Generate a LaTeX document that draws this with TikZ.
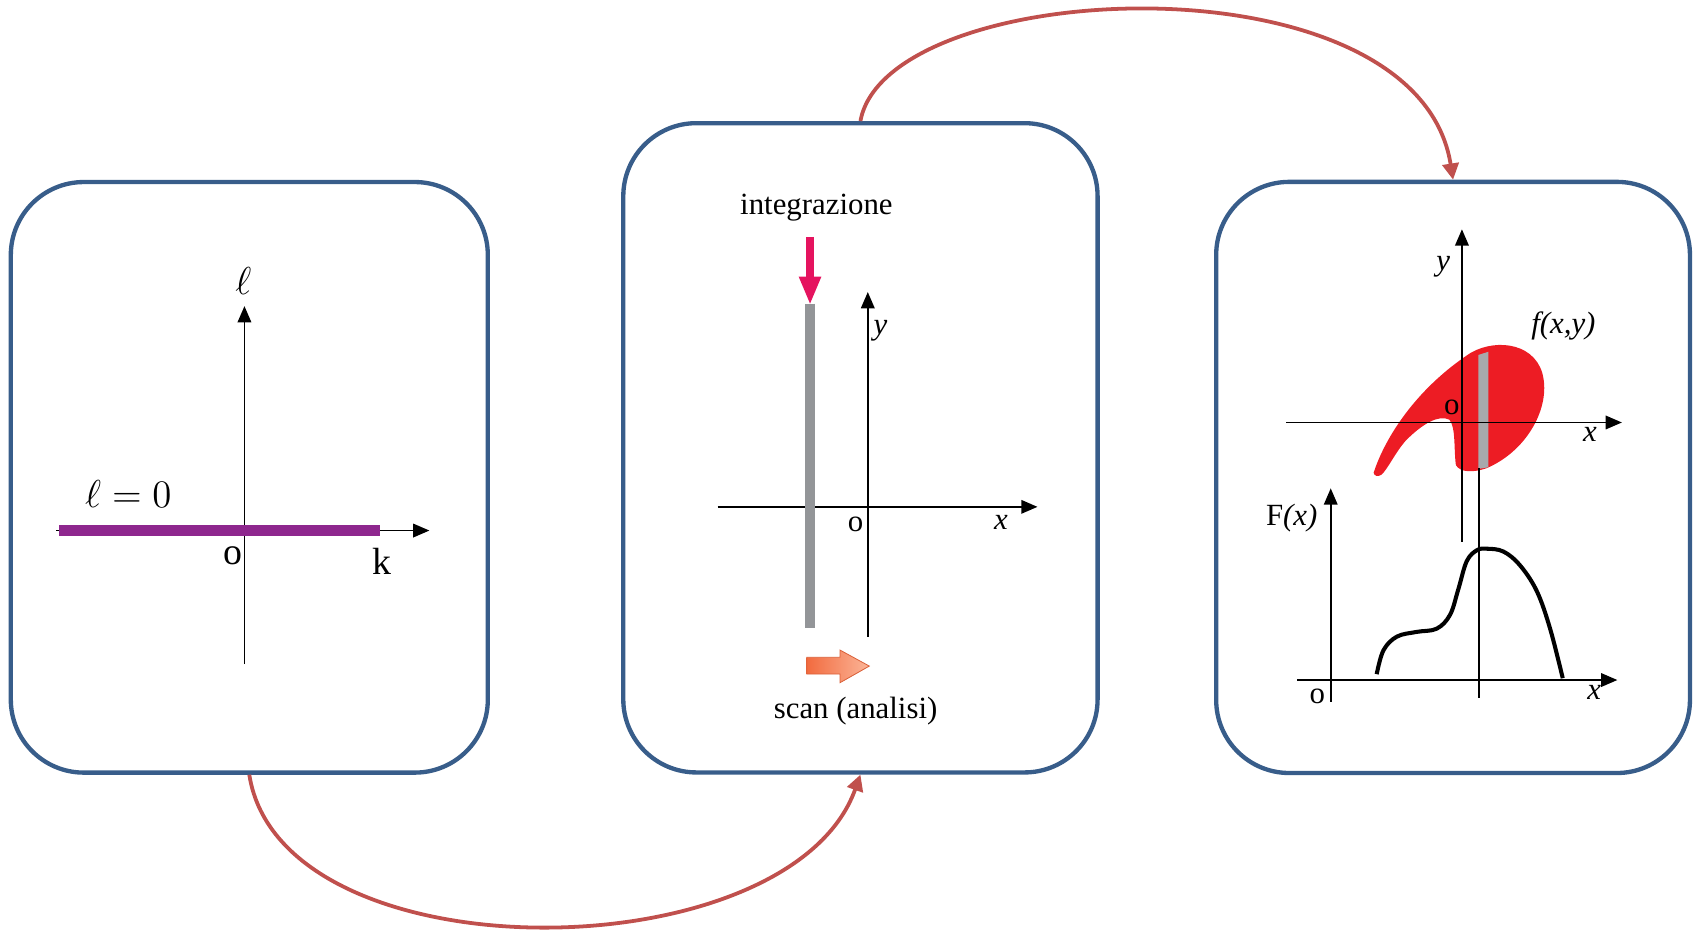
\documentclass[tikz,border=0pt]{standalone}
\usepackage{fontspec}
\setmainfont{Liberation Serif}
\usetikzlibrary{arrows.meta}
\definecolor{panelblue}{HTML}{385D8A}
\definecolor{linkred}{HTML}{C0504D}
\definecolor{barpurple}{HTML}{8E278E}
\definecolor{blobred}{HTML}{ED1C24}
\definecolor{intmagenta}{HTML}{E5135F}
\definecolor{bargray}{HTML}{939598}
\definecolor{stripgray}{HTML}{A7A9AC}
\definecolor{scanorange}{HTML}{F26B3F}
\definecolor{scanpeach}{HTML}{FBB598}

\begin{document}
\begin{tikzpicture}[x=0.4pt, y=-0.4pt,
    panel/.style={draw=panelblue, line width=1.6pt, rounded corners=27pt, inner sep=0pt},
    link/.style={draw=linkred, line width=1.4pt, -{Triangle[length=6pt,width=6pt]}},
    axis/.style={line width=0.65pt, -{Triangle[length=6pt,width=5pt]}},
    lbl/.style={font=\fontsize{11.4}{13}\selectfont, inner sep=0pt},
    biglbl/.style={font=\fontsize{14}{16}\selectfont, inner sep=0pt},
]
\useasboundingbox (0,0) rectangle (1568,860);

% === Panels ===
\node[panel, minimum width=176.4pt, minimum height=218.4pt] (box1) at (230.5, 441.3) {};
\node[panel, minimum width=175.4pt, minimum height=240.1pt] (box2) at (795.5, 414) {};
\node[panel, minimum width=175.2pt, minimum height=218.6pt] (box3) at (1343.4, 441.4) {};

% Links between panels
\draw[link] (box1.south) .. controls (260,905) and (730,900) .. (box2.south);
\draw[link] (box2.north) .. controls (820,-22) and (1310,-45) .. (box3.north);

% === Panel 1: the line l = 0 ===
\draw[axis] (226,614) -- (226,283);
\draw[axis] (52,490.5) -- (397,490.5);
\draw[barpurple, line width=4.1pt] (55,490.5) -- (351,490.5);
\node[biglbl] (ell) at (225, 259.5) {$\ell$};
\node[biglbl] (ellzero) at (118.7, 457) {$\ell = 0$};
\node[biglbl] (orig1) at (215.7, 513.5) {o};
\node[biglbl] (klbl) at (352.9, 519) {k};

% === Panel 2: integration and scan ===
\node[lbl] (integ) at (754.8, 192) {integrazione};
\draw[axis] (802.3,588.8) -- (802.3,270);
\draw[axis] (663.4,468.6) -- (959.2,468.6);
\draw[bargray, line width=3.4pt] (748.9,280.6) -- (748.9,580.8);
\draw[intmagenta, line width=3.1pt, -{Triangle[length=10.5pt,width=7.5pt]}] (748.9,219) -- (748.9,282);
\node[lbl] (ylbl2) at (814, 306) {\textit{y}};
\node[lbl] (orig2) at (791, 484.6) {o};
\node[lbl] (xlbl2) at (925.3, 482.6) {\textit{x}};
\shade[left color=scanorange, right color=scanpeach, draw=scanorange!90!black, line width=0.3pt]
  (745.8,607.7) -- (776.6,607.7) -- (776.6,601) -- (803.7,615.8) -- (776.6,631.2)
  -- (776.6,623.2) -- (745.8,623.2) -- cycle;
\node[lbl] (scan) at (791, 657) {scan (analisi)};

% === Panel 3: domain and F(x) ===
\fill[blobred] (1270,437) .. controls (1280,406) and (1308,360) .. (1360,326)
  .. controls (1385,312) and (1422,318) .. (1427,350)
  .. controls (1432,380) and (1410,418) .. (1374,433)
  .. controls (1362,437) and (1350,437) .. (1346,430)
  .. controls (1344,415) and (1346,395) .. (1340,388)
  .. controls (1330,383) and (1315,392) .. (1300,407)
  .. controls (1290,418) and (1283,434) .. (1277,439)
  .. controls (1274,441) and (1270,440) .. (1270,437) -- cycle;
\fill[stripgray] (1366.8,328.2) -- (1376,325.2) -- (1376,432) -- (1366.8,433.5) -- cycle;
\draw[axis] (1351.6,500.8) -- (1351.6,212);
\draw[axis] (1189,390.6) -- (1499.5,390.6);
\node[lbl] (ylbl3) at (1334.4, 246.8) {\textit{y}};
\node[lbl] (fxy) at (1445.4, 301.6) {\textit{f(x,y)}};
\node[lbl] (orig3) at (1342.2, 376.5) {o};
\node[lbl] (xlbl3) at (1470, 402) {\textit{x}};

\draw[line width=0.65pt] (1367.6,433) -- (1367.6,645);
\draw[axis] (1230.3,648.9) -- (1230.3,451.5);
\draw[axis] (1199.5,628.7) -- (1495.3,628.7);
\draw[line width=1.5pt] plot[smooth, tension=0.6] coordinates {
  (1272.8,623.3) (1279,601.3) (1291.4,588.6) (1309.8,584.2) (1328.3,581.2)
  (1340.6,568.4) (1348.3,544.6) (1356,518.9) (1365.3,508.8) (1374.5,507.3)
  (1389.9,509.9) (1405.3,522.7) (1420.8,546.5) (1433.1,581.2) (1444.8,627)};
\node[lbl] (Flbl) at (1194.2, 479) {F\textit{(x)}};
\node[lbl] (orig4) at (1218, 643.5) {o};
\node[lbl] (xlbl4) at (1473.8, 639.8) {\textit{x}};

\end{tikzpicture}
\end{document}
